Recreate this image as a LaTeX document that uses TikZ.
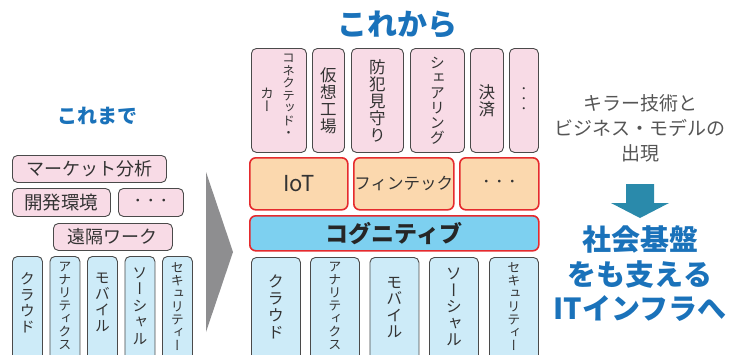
\documentclass[tikz,border=0pt]{standalone}
\usepackage{fontspec}
\setmainfont{Noto Sans CJK JP}
\newfontfamily\vjp[RawFeature=+vert]{Noto Sans CJK JP}
\definecolor{pinkfill}{HTML}{F8DBE6}
\definecolor{boxline}{HTML}{4A4A4A}
\definecolor{bluefill}{HTML}{CDEBF8}
\definecolor{orangefill}{HTML}{FBD8AE}
\definecolor{redline}{HTML}{E52A2D}
\definecolor{cogfill}{HTML}{7DD0F0}
\definecolor{titleblue}{HTML}{1A72BA}
\definecolor{tealarrow}{HTML}{2A8AAB}
\definecolor{grayarrow}{HTML}{8E8E90}
\definecolor{txt}{HTML}{333333}
\definecolor{graytxt}{HTML}{555555}
\tikzset{
  pbox/.style={draw=boxline, fill=pinkfill, rounded corners=5pt, line width=0.9pt, inner sep=0pt, anchor=north west, text=txt},
  bbox/.style={draw=boxline, fill=bluefill, rounded corners=5pt, line width=0.9pt, inner sep=0pt, anchor=north west},
  obox/.style={draw=redline, fill=orangefill, rounded corners=6pt, line width=1.6pt, inner sep=0pt, anchor=north west, text=txt},
  vtext/.style={inner sep=0pt, align=center, text=txt},
}
\begin{document}
\begin{tikzpicture}[x=1pt,y=-1pt]
\useasboundingbox (0,0) rectangle (742,354);
\clip (0,0) rectangle (742,354);

% ---------- left: これまで ----------
\node[text=titleblue, font=\fontsize{20}{22}\selectfont\bfseries] (t1) at (97,116) {これまで};

\node[pbox, minimum width=154pt, minimum height=27pt, font=\fontsize{18}{20}\selectfont] (m1) at (12,155) {マーケット分析};
\node[pbox, minimum width=98pt, minimum height=28pt, font=\fontsize{18.5}{20}\selectfont] (m2) at (12,188) {開発環境};
\node[pbox, minimum width=65pt, minimum height=28pt, font=\fontsize{13}{14}\selectfont] (m3) at (118,188) {・・・};
\node[pbox, minimum width=119pt, minimum height=27pt, font=\fontsize{18}{20}\selectfont] (m4) at (53,223) {遠隔ワーク};

\foreach \x/\n in {12/l1,49.5/l2,87/l3,124.5/l4,162/l5}{
  \node[bbox, minimum width=30pt, minimum height=120pt] (\n) at (\x,256) {};
}
\tikzset{lv/.style={vtext, anchor=north}}
\node[lv, font=\vjp\fontsize{15}{16}\selectfont] (lt1) at ([yshift=-16pt]l1.north) {ク\\ラ\\ウ\\ド};
\node[lv, font=\vjp\fontsize{13}{13}\selectfont] (lt2) at ([yshift=-6pt]l2.north) {ア\\ナ\\リ\\テ\\ィ\\ク\\ス};
\node[lv, font=\vjp\fontsize{15}{16}\selectfont] (lt3) at ([yshift=-17pt]l3.north) {モ\\バ\\イ\\ル};
\node[lv, font=\vjp\fontsize{15}{16.5}\selectfont] (lt4) at ([yshift=-11pt]l4.north) {ソ\\ー\\シ\\ャ\\ル};
\node[lv, font=\vjp\fontsize{13}{13}\selectfont] (lt5) at ([yshift=-6pt]l5.north) {セ\\キ\\ュ\\リ\\テ\\ィ\\ー};

% ---------- big gray arrow ----------
\fill[grayarrow] (206,172) -- (233,252) -- (206,332) -- cycle;

% ---------- right: これから ----------
\node[text=titleblue, font=\fontsize{30}{32}\selectfont\bfseries] (t2) at (397,25) {これから};

\node[pbox, minimum width=55pt, minimum height=104pt] (p1) at (251,48) {};
\node[pbox, minimum width=32pt, minimum height=104pt] (p2) at (312,48) {};
\node[pbox, minimum width=52pt, minimum height=104pt] (p3) at (351,48) {};
\node[pbox, minimum width=54pt, minimum height=104pt] (p4) at (410,48) {};
\node[pbox, minimum width=33pt, minimum height=104pt] (p5) at (470,48) {};
\node[pbox, minimum width=29pt, minimum height=104pt] (p6) at (509,48) {};

\tikzset{pv/.style={vtext, font=\vjp\fontsize{16.5}{17}\selectfont}}
\node[vtext, font=\vjp\fontsize{12.5}{12.5}\selectfont] (pt1a) at (288.5,96) {コ\\ネ\\ク\\テ\\ッ\\ド\\・};
\node[vtext, font=\vjp\fontsize{13.5}{13.5}\selectfont] (pt1b) at (267,100) {カ\\ー};
\node[pv] (pt2) at (p2.center) {仮\\想\\工\\場};
\node[pv] (pt3) at (p3.center) {防\\犯\\見\\守\\り};
\node[vtext, font=\vjp\fontsize{15}{15}\selectfont] (pt4) at (p4.center) {シ\\ェ\\ア\\リ\\ン\\グ};
\node[pv] (pt5) at (p5.center) {決\\済};
\node[vtext, font=\vjp\fontsize{10}{10}\selectfont] (pt6) at (p6.center) {・\\・\\・};

\node[obox, minimum width=98pt, minimum height=52pt, font=\fontsize{22}{24}\selectfont] (o1) at (249,157) {IoT};
\node[obox, minimum width=100pt, minimum height=52pt, font=\fontsize{16.5}{18}\selectfont] (o2) at (353,157) {フィンテック};
\node[obox, minimum width=79pt, minimum height=52pt, font=\fontsize{13}{14}\selectfont] (o3) at (459,157) {・・・};

\node[obox, fill=cogfill, minimum width=289pt, minimum height=35pt, font=\fontsize{23}{25}\selectfont\bfseries, text=black!85] (cog) at (249,215) {コグニティブ};

\foreach \x/\n in {251/r1,310/r2,369.5/r3,429/r4,489/r5}{
  \node[bbox, minimum width=49pt, minimum height=120pt] (\n) at (\x,257) {};
}
\tikzset{rv/.style={vtext, anchor=north}}
\node[rv, font=\vjp\fontsize{16}{17}\selectfont] (rt1) at ([yshift=-18pt]r1.north) {ク\\ラ\\ウ\\ド};
\node[rv, font=\vjp\fontsize{13}{13}\selectfont] (rt2) at ([yshift=-5pt]r2.north) {ア\\ナ\\リ\\テ\\ィ\\ク\\ス};
\node[rv, font=\vjp\fontsize{16}{16.5}\selectfont] (rt3) at ([yshift=-20pt]r3.north) {モ\\バ\\イ\\ル};
\node[rv, font=\vjp\fontsize{16}{16.5}\selectfont] (rt4) at ([yshift=-11pt]r4.north) {ソ\\ー\\シ\\ャ\\ル};
\node[rv, font=\vjp\fontsize{13}{13}\selectfont] (rt5) at ([yshift=-5pt]r5.north) {セ\\キ\\ュ\\リ\\テ\\ィ\\ー};

% ---------- right text ----------
\node[text=graytxt, align=center, font=\fontsize{19}{25}\selectfont] (k) at (640,128) {キラー技術と\\ビジネス・モデルの\\出現};
\fill[tealarrow] (626,184) -- (654,184) -- (654,203) -- (669,203) -- (640,218) -- (611,203) -- (626,203) -- cycle;
\node[text=titleblue, align=center, font=\fontsize{29}{34.5}\selectfont\bfseries] (s) at (640,274) {社会基盤\\をも支える\\ITインフラへ};
\end{tikzpicture}
\end{document}
